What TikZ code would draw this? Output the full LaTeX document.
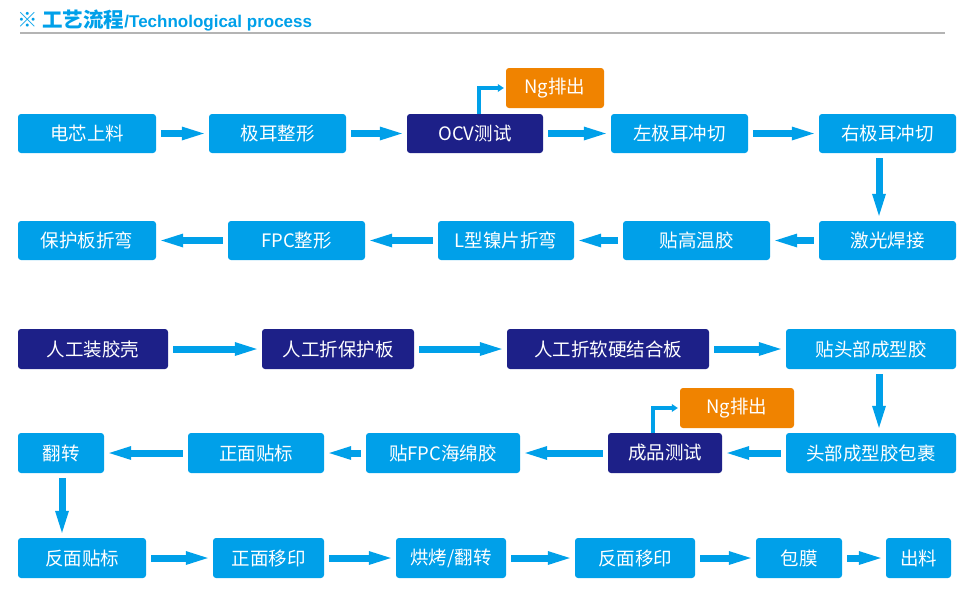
\documentclass[tikz,border=0pt]{standalone}
\usepackage{fontspec}
\setmainfont{Noto Sans CJK SC}
\newfontfamily\headlatin{Liberation Sans}
\usepackage{tikz}
\usetikzlibrary{positioning}
\usetikzlibrary{arrows.meta}
\definecolor{procblue}{HTML}{00A0E9}
\definecolor{procnavy}{HTML}{1D2088}
\definecolor{ngorange}{HTML}{F08300}
\definecolor{rulegray}{HTML}{B4B4B4}
\tikzstyle{proc} = [rectangle,rounded corners=3pt,fill=procblue,text=white,minimum height=39pt,inner sep=0pt,font=\fontsize{18.5}{20}\selectfont]
\tikzstyle{manual} = [proc,fill=procnavy]
\tikzstyle{ng} = [proc,fill=ngorange,minimum height=40pt]
\tikzstyle{flow} = [-{Triangle[length=22pt,width=14pt,line width=0pt]},line width=7pt,color=procblue,shorten <=5pt,shorten >=5pt]
\tikzstyle{reject} = [-{Triangle[length=6pt,width=8pt,line width=0pt]},line width=3.5pt,color=procblue,shorten >=2pt]

\begin{document}
\begin{tikzpicture}
	[x=1pt,y=-1pt]
	\useasboundingbox (0,0) rectangle (976,600);
	
	% title
	\node (title) [anchor=base west,inner sep=0pt,text=procblue] at (17,27.5)
		{\fontsize{20.5}{22}\selectfont\bfseries ※ 工艺流程\headlatin\fontsize{17}{18}\selectfont/Technological process};
	\draw[rulegray,line width=1.6pt] (20,33) -- (945,33);
	
	% row 1
	\node (1) [proc,minimum width=138pt] at (87,133.5) {电芯上料};
	\node (2) [proc,minimum width=137pt] at (277.5,133.5) {极耳整形};
	\node (3) [manual,minimum width=136pt] at (475,133.5) {OCV测试};
	\node (4) [proc,minimum width=137pt] at (679.5,133.5) {左极耳冲切};
	\node (5) [proc,minimum width=137pt] at (887.5,133.5) {右极耳冲切};
	\node (ng1) [ng,minimum width=98pt] at (555,88) {Ng排出};
	
	% row 2
	\node (6) [proc,minimum width=137pt] at (887.5,240.5) {激光焊接};
	\node (7) [proc,minimum width=147pt] at (696.5,240.5) {贴高温胶};
	\node (8) [proc,minimum width=136pt] at (506,240.5) {L型镍片折弯};
	\node (9) [proc,minimum width=137pt] at (296.5,240.5) {FPC整形};
	\node (10) [proc,minimum width=138pt] at (87,240.5) {保护板折弯};
	
	% row 3
	\node (11) [manual,minimum width=150pt,minimum height=40pt] at (93,349) {人工装胶壳};
	\node (12) [manual,minimum width=152pt,minimum height=40pt] at (338,349) {人工折保护板};
	\node (13) [manual,minimum width=202pt,minimum height=40pt] at (608,349) {人工折软硬结合板};
	\node (14) [proc,minimum width=170pt,minimum height=40pt] at (871,349) {贴头部成型胶};
	
	% row 4
	\node (15) [proc,minimum width=170pt,minimum height=40pt] at (871,453) {头部成型胶包裹};
	\node (16) [manual,minimum width=114pt,minimum height=40pt] at (665,453) {成品测试};
	\node (ng2) [ng,minimum width=114pt] at (737,408) {Ng排出};
	\node (17) [proc,minimum width=154pt,minimum height=40pt] at (443,453) {贴FPC海绵胶};
	\node (18) [proc,minimum width=136pt,minimum height=40pt] at (256,453) {正面贴标};
	\node (19) [proc,minimum width=86pt,minimum height=40pt] at (61,453) {翻转};
	
	% row 5
	\node (20) [proc,minimum width=128pt,minimum height=40pt] at (82,558) {反面贴标};
	\node (21) [proc,minimum width=111pt,minimum height=40pt] at (268.5,558) {正面移印};
	\node (22) [proc,minimum width=110pt,minimum height=40pt] at (451,558) {烘烤/翻转};
	\node (23) [proc,minimum width=120pt,minimum height=40pt] at (635,558) {反面移印};
	\node (24) [proc,minimum width=86pt,minimum height=40pt] at (799,558) {包膜};
	\node (25) [proc,minimum width=65pt,minimum height=40pt] at (918.5,558) {出料};
	
	\path[flow]
		(1) edge (2)
		(2) edge (3)
		(3) edge (4)
		(4) edge (5)
		([xshift=-8.5pt]5.south) edge ([xshift=-8.5pt]6.north)
		(6) edge (7)
		(7) edge (8)
		(8) edge (9)
		(9) edge (10)
		(11) edge (12)
		(12) edge (13)
		(13) edge (14)
		([xshift=8pt]14.south) edge ([xshift=8pt]15.north)
		(15) edge (16)
		(16) edge (17)
		(17) edge (18)
		(18) edge (19)
		(20) edge (21)
		(21) edge (22)
		(22) edge (23)
		(23) edge (24)
		(24) edge (25);
	\draw[flow] ([xshift=1pt]19.south) -- ([xshift=1pt]19.south |- 20.north);
	
	\draw[reject] ([xshift=4pt]3.north) |- (ng1.west);
	\draw[reject] ([xshift=-12pt]16.north) |- (ng2.west);
\end{tikzpicture}
\end{document}
